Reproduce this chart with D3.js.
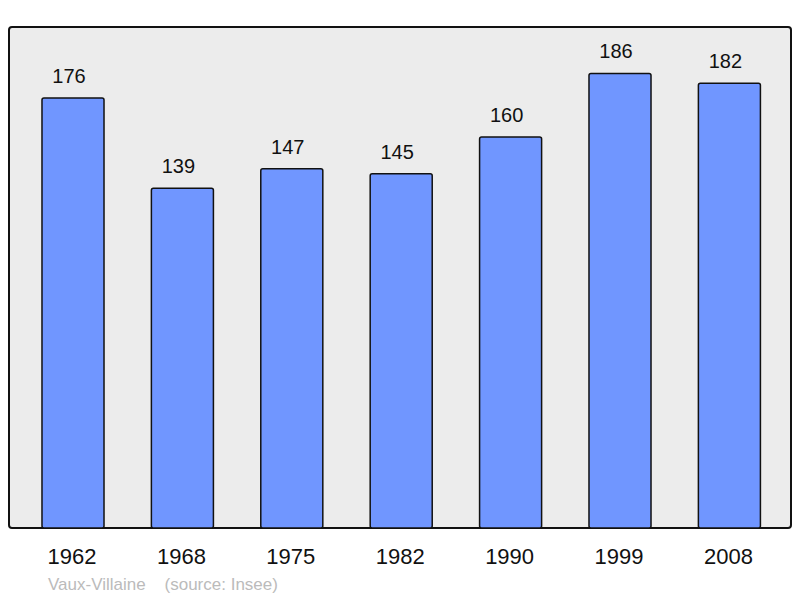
<!DOCTYPE html>
<html>
<head>
<meta charset="utf-8">
<script src="https://cdn.jsdelivr.net/npm/d3@7"></script>
<style>
  body { margin: 0; background: #fff; }
  text { font-family: "Liberation Sans", Arial, sans-serif; }
</style>
</head>
<body>
<svg id="chart"></svg>
<script>
// population by census year
var years = ["1962", "1968", "1975", "1982", "1990", "1999", "2008"];
var population = [176, 139, 147, 145, 160, 186, 182];
var commune = "Vaux-Villaine";
var source = "(source: Insee)";

var width = 800, height = 598;
var frame = {left: 9, top: 27, right: 791, bottom: 528};

var svg = d3.select("#chart")
  .attr("width", width)
  .attr("height", height);

// plot frame
svg.append("rect")
  .attr("x", frame.left)
  .attr("y", frame.top)
  .attr("width", frame.right - frame.left)
  .attr("height", frame.bottom - frame.top)
  .attr("rx", 3)
  .attr("fill", "#ececec")
  .attr("stroke", "#111")
  .attr("stroke-width", 2);

// scales
var x = d3.scaleBand()
  .domain(years)
  .range([18.3, 784.1])
  .paddingInner(0.433)
  .paddingOuter(0.2165);

var y = d3.scaleLinear()
  .domain([0, d3.max(population) * 1.1])
  .range([frame.bottom, frame.top + 1]);

var data = years.map(function(yr, i) { return {year: yr, value: population[i]}; });

// bars
svg.selectAll(".bar")
  .data(data)
  .enter().append("rect")
  .attr("class", "bar")
  .attr("x", function(d) { return x(d.year); })
  .attr("y", function(d) { return y(d.value); })
  .attr("width", x.bandwidth())
  .attr("height", function(d) { return frame.bottom - y(d.value); })
  .attr("rx", 2)
  .attr("fill", "#7096ff")
  .attr("stroke", "#111")
  .attr("stroke-width", 1.5);

// value labels
svg.selectAll(".val")
  .data(data)
  .enter().append("text")
  .attr("class", "val")
  .attr("x", function(d) { return x(d.year) + x.bandwidth() / 2 - 4; })
  .attr("y", function(d) { return y(d.value) - 15; })
  .attr("text-anchor", "middle")
  .attr("font-size", 20)
  .attr("fill", "#111")
  .text(function(d) { return d.value; });

// year axis labels
var axis = d3.axisBottom(x).tickSize(0).tickPadding(0);
var gx = svg.append("g")
  .attr("transform", "translate(-1," + 564 + ")")
  .call(axis);
gx.select(".domain").remove();
gx.selectAll("text")
  .attr("dy", 0)
  .attr("font-size", 22)
  .attr("fill", "#111")
  .style("font-family", '"Liberation Sans", Arial, sans-serif');

// footer
svg.append("text")
  .attr("x", 48)
  .attr("y", 590)
  .attr("font-size", 17)
  .attr("fill", "#bbb")
  .attr("xml:space", "preserve")
  .text(commune + "    " + source);
</script>
</body>
</html>
